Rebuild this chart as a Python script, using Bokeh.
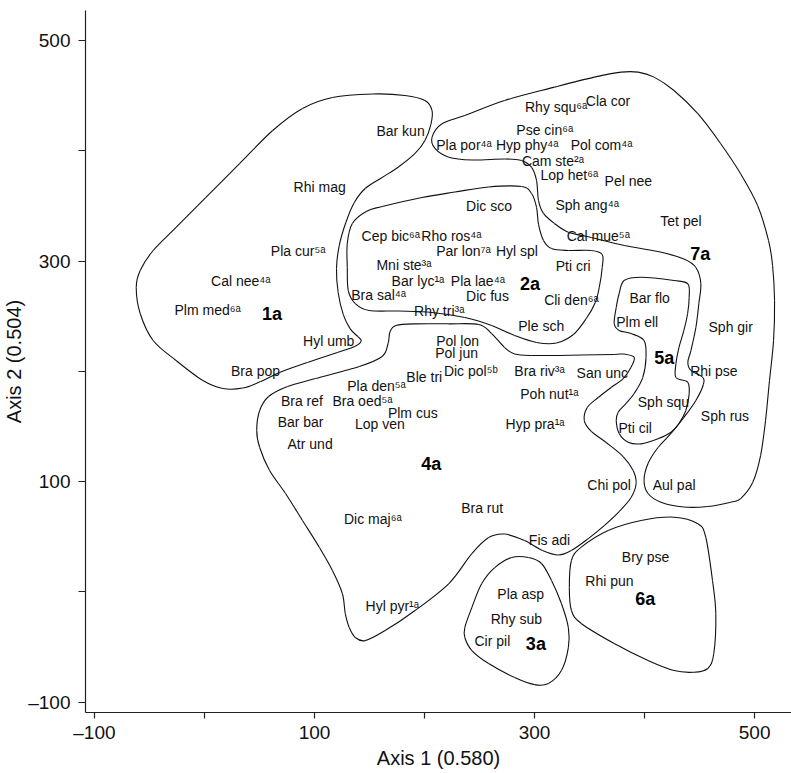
import numpy as np
from bokeh.plotting import figure
from bokeh.models import FixedTicker, ColumnDataSource, Range1d
from bokeh.core.properties import value
from bokeh.embed import file_html
from bokeh.resources import INLINE

# ---------------- data (axis units) ----------------
# species labels: left edge x, baseline y
label_names = ["Bar kun", "Rhi mag", "Pla cur", "Cal nee", "Plm med", "Hyl umb", "Bra pop",
               "Dic sco", "Cep bic", "Rho ros", "Par lon", "Hyl spl", "Mni ste", "Bar lyc",
               "Pla lae", "Bra sal", "Dic fus", "Rhy tri", "Pti cri", "Cli den", "Ple sch",
               "Pol lon", "Pol jun", "Dic pol", "Ble tri", "Pla den", "Bra ref", "Bra oed",
               "Plm cus", "Lop ven", "Bar bar", "Atr und", "Dic maj", "Hyl pyr", "Bra rut",
               "Fis adi", "Pla asp", "Rhy sub", "Cir pil", "Bry pse", "Rhi pun", "Chi pol",
               "Aul pal", "Bra riv", "San unc", "Poh nut", "Hyp pra", "Bar flo", "Plm ell",
               "Sph squ", "Pti cil", "Sph gir", "Rhi pse", "Sph rus", "Rhy squ", "Cla cor",
               "Pse cin", "Pla por", "Hyp phy", "Pol com", "Cam ste", "Lop het", "Pel nee",
               "Sph ang", "Tet pel", "Cal mue"]
label_sups = ["", "", "5a", "4a", "6a", "", "",
              "", "6a", "4a", "7a", "", "3a", "1a",
              "4a", "4a", "", "3a", "", "6a", "",
              "", "", "5b", "", "5a", "", "5a",
              "", "", "", "", "6a", "1a", "",
              "", "", "", "", "", "", "",
              "", "3a", "", "1a", "1a", "", "",
              "", "", "", "", "", "6a", "",
              "6a", "4a", "4a", "4a", "2a", "6a", "",
              "4a", "", "5a"]
label_x = [156.3, 81.0, 60.3, 6.0, -27.2, 89.6, 24.1,
           237.8, 142.8, 197.1, 210.6, 264.9, 156.3, 170.1,
           223.9, 133.4, 237.8, 190.5, 319.2, 308.7, 285.2,
           210.6, 209.7, 217.6, 183.5, 129.8, 69.5, 116.3,
           166.7, 136.8, 66.5, 75.5, 126.8, 146.4, 233.3,
           294.8, 266.2, 260.1, 245.4, 379.3, 346.1, 347.9,
           407.4, 281.6, 338.2, 287.0, 273.7, 386.2, 374.2,
           393.8, 376.3, 458.1, 441.4, 451.1, 291.3, 346.6,
           283.4, 210.6, 264.9, 332.8, 288.5, 305.4, 363.6,
           319.0, 414.3, 329.2]
label_y = [417.5, 367.0, 309.0, 281.8, 255.2, 227.4, 200.1,
           349.8, 322.3, 322.6, 309.0, 309.0, 296.0, 281.9,
           281.8, 268.8, 268.2, 254.6, 295.4, 264.3, 241.0,
           227.4, 216.8, 200.1, 194.7, 186.5, 172.7, 172.7,
           162.4, 152.4, 153.9, 133.7, 66.3, -12.9, 75.9,
           47.3, -1.7, -24.4, -44.1, 31.5, 9.7, 97.4,
           97.4, 200.1, 198.7, 179.65, 152.4, 266.3, 244.6,
           172.0, 148.5, 240.0, 200.1, 159.1, 439.3, 445.0,
           419.1, 404.8, 404.8, 404.8, 390.6, 377.6, 372.4,
           350.4, 336.2, 322.6]

# group (envelope) labels
group_names = ["1a", "2a", "3a", "4a", "5a", "6a", "7a"]
group_x = [52.3, 286.7, 292.1, 197.1, 408.8, 391.4, 441.4]
group_y = [252.2, 279.4, -47.0, 116.2, 211.9, -6.2, 306.6]

# envelope outlines (closed), axis units
env_1a_x = [62, 89.1, 116.3, 152.5, 182.3, 200.4, 206.8, 205.8, 200.4, 191.4, 176.9, 161.5, 146.1,
            136.2, 128.5, 122.5, 120, 121.5, 126.2, 132.5, 139.5, 142.5, 137, 120.8, 93.6, 68.3,
            51.1, 34.8, 16.7, -1.4, -25.8, -46.6, -58.4, -62, -58.4, -46.6, -25.8, 1.3, 32.1]
env_1a_y = [418.4, 438.4, 448.3, 451.5, 450.2, 445.6, 436.6, 423.9, 409.4, 397.6, 385.8, 375.8, 365.8,
            353.1, 335, 314.1, 293.3, 271.5, 251.5, 238.5, 231.5, 227.6, 222.8, 217.1, 208, 199,
            190.8, 184.9, 184.5, 191.7, 209.9, 228, 252.5, 276.1, 291.5, 309.6, 330.5, 357.7, 388.5]

env_2a_x = [161.5, 197.7, 227.6, 258.3, 288.2, 297.3, 301.8, 303.6, 308.1, 315.4, 330.7, 351.6, 361.5,
            361.5, 358.8, 355.2, 347, 335.3, 319.9, 301.8, 281.9, 261, 236.6, 206.8, 176.9, 149.7,
            137.1, 130.7, 129.8, 129.8, 134.4, 147]
env_2a_y = [349.5, 357.7, 362.6, 367.2, 367.6, 361.3, 348.6, 333.2, 318.7, 311.4, 309.6, 309.6, 306,
            294.2, 276.1, 262.5, 247.9, 233.4, 225.7, 226.2, 232.5, 241.6, 248.8, 253.4, 254.7, 255.2,
            261.5, 273.3, 294.2, 316, 334.1, 345]

env_4a_x = [47.5, 50.2, 58.3, 75.5, 100.9, 140.7, 161.5, 166.9, 168.7, 174.2, 191.4, 222.1, 249.3, 261,
            272.8, 281.9, 297.3, 342.5, 372.4, 381.4, 390.5, 387.7, 380.5, 369.6, 357.9, 347.9, 345.2,
            351.6, 365.1, 380.5, 389.6, 392.3, 387.7, 376.9, 363.3, 348.8, 333.5, 321.7, 307.2, 290.9,
            272.8, 258.3, 243, 222.1, 191.4, 164.2, 146.1, 137.1, 131.6, 128, 125.3, 116.3, 104.5,
            89.1, 73.7, 59.2, 50.2]
env_4a_y = [146.4, 164.5, 177.2, 186.3, 193.5, 204.4, 213.5, 225.3, 236.1, 241.6, 243.1, 243.1, 242.5,
            234.3, 221.6, 215.7, 214.4, 214.8, 215.3, 215.7, 212.8, 203.8, 193.5, 185.4, 176.3, 167.2,
            155.4, 145.5, 135.5, 122.8, 110.1, 98.3, 85.6, 72.9, 60.2, 48.4, 37.6, 33.5, 37.6, 46.6,
            52.5, 49.35, 34.8, 7.6, -16.8, -35, -44.1, -41.3, -32.3, -19.6, -1.4, 19.4, 40.3,
            64.8, 89.25, 110.1, 131]

env_7a_x = [206.8, 215.8, 236.6, 272.8, 318.1, 354.3, 378.7, 394.1, 408.6, 426.7, 448.4, 469.2, 487.3,
            502.7, 512.6, 516.3, 518.1, 517.2, 513.5, 509.9, 505.4, 498.2, 487.3, 478.3, 457.4, 435.7,
            414.9, 403.1, 399.5, 403.1, 412.2, 424, 435.7, 446.6, 453.4, 452.5, 442.1, 439.3, 442.1,
            446.6, 449.3, 451.1, 446.6, 435.7, 412.2, 381.4, 351.6, 330.7, 318.1, 308.1, 303.6, 301.8,
            297.3, 288.2, 272.8, 243, 222.1, 209.5]
env_7a_y = [412.1, 424.5, 432, 445.6, 457.7, 466.8, 471.3, 471.3, 466.8, 454.7, 433.6, 406.4, 379.1,
            350.4, 318.7, 296, 264.3, 228, 191.7, 155.4, 123.7, 99.2, 84.7, 81.4, 77.5, 77,
            81.4, 89.25, 101, 116.45, 131, 143.7, 158.2, 173.6, 188.1, 194.9, 200.8, 208.3, 218.9,
            239.8, 261.5, 279.7, 294.2, 301.9, 308.7, 314.1, 321.4, 326.2, 334.1, 343.2, 354.9, 373.1,
            384.9, 391.2, 392.6, 391.7, 394.2, 402.1]

env_5a_x = [381.4, 396.8, 426.7, 439.3, 440.5, 439.1, 435.7, 431.2, 428.5, 428.5, 439.1, 440.5, 437.5,
            431.2, 424, 412.2, 396.8, 385, 376.9, 374.2, 376, 383.2, 390.5, 398.3, 401.3, 399.5, 387.7,
            376.9, 372.4, 374.2, 376.9]
env_5a_y = [282.4, 285.4, 282.4, 279.4, 267, 252.5, 237.1, 221.6, 207.1, 194.4, 190.2, 179.65, 164.5,
            152.7, 144.8, 138.9, 134.3, 135.8, 143.7, 155.4, 163, 170.9, 179.9, 194.4, 212.6, 228, 234.3,
            237.1, 243.4, 257.9, 270.6]

env_6a_x = [333.5, 342.5, 366.9, 396.8, 426.7, 448.4, 455.6, 461.7, 464.7, 462.9, 457.4, 444.8, 426.7,
            403.1, 372.4, 342.5, 333.5, 331.6]
env_6a_y = [28.5, 40.6, 55.7, 64.8, 67.8, 61.8, 49.6, 10.4, -19.6, -55.8, -69.4, -72.8, -71.3,
            -62.2, -46.8, -28.6, -16.8, 4]

env_3a_x = [236.6, 243, 252, 263.8, 279.2, 294.5, 306.3, 315.4, 324.4, 330.7, 330.7, 324.4, 312.6, 300,
            281.9, 258.3, 243, 236.6]
env_3a_y = [-32.3, -14.1, 7.6, 22.1, 31.2, 31.2, 25.8, 10.4, -10.5, -32.3, -50.4, -71.3, -83.05, -84,
            -77.6, -64.9, -53.1, -41.3]

tick_values = [-100, 0, 100, 200, 300, 400, 500]
tick_labels = {-100: "\u2013100", 0: "", 100: "100", 200: "", 300: "300", 400: "", 500: "500"}
x_title = "Axis 1 (0.580)"
y_title = "Axis 2 (0.504)"

# ---------------- figure ----------------
X0, X1 = -108.1, 533.5
Y0, Y1 = -109.3, 527.2
p = figure(width=791, height=773, x_range=Range1d(X0, X1), y_range=Range1d(Y0, Y1),
           output_backend="svg", toolbar_location=None,
           min_border_left=82, min_border_right=0, min_border_top=10, min_border_bottom=61)
p.xgrid.visible = False
p.ygrid.visible = False
p.outline_line_color = None
p.background_fill_color = "white"
p.border_fill_color = "white"

FONT = "Liberation Sans"
for ax in (p.xaxis[0], p.yaxis[0]):
    ax.ticker = FixedTicker(ticks=tick_values)
    ax.major_label_overrides = tick_labels
    ax.minor_tick_line_color = None
    ax.major_tick_in = 0
    ax.axis_line_color = "#222222"
    ax.axis_line_width = 1.2
    ax.major_tick_line_color = "#222222"
    ax.major_tick_line_width = 1.2
    ax.major_label_text_font = FONT
    ax.major_label_text_font_size = "19px"
    ax.major_label_text_color = "#111111"
    ax.axis_label_text_font = FONT
    ax.axis_label_text_font_size = "20px"
    ax.axis_label_text_font_style = "normal"
    ax.axis_label_text_color = "#111111"

p.xaxis[0].axis_label = x_title
p.xaxis[0].major_tick_out = 6
p.xaxis[0].major_label_standoff = 3
p.xaxis[0].axis_label_standoff = 1
p.yaxis[0].axis_label = y_title
p.yaxis[0].major_tick_out = 7
p.yaxis[0].major_label_standoff = 8
p.yaxis[0].axis_label_standoff = 0

# envelopes as smooth closed curves through the traced outline
def closed_curve(xs, ys):
    x = np.asarray(xs, float)
    y = np.asarray(ys, float)
    xm1, ym1 = np.roll(x, 1), np.roll(y, 1)
    xp1, yp1 = np.roll(x, -1), np.roll(y, -1)
    xp2, yp2 = np.roll(x, -2), np.roll(y, -2)
    return dict(x0=x, y0=y, x1=xp1, y1=yp1,
                cx0=x + (xp1 - xm1) / 6.0, cy0=y + (yp1 - ym1) / 6.0,
                cx1=xp1 - (xp2 - x) / 6.0, cy1=yp1 - (yp2 - y) / 6.0)

for ex, ey in [(env_1a_x, env_1a_y), (env_2a_x, env_2a_y), (env_4a_x, env_4a_y),
               (env_7a_x, env_7a_y), (env_5a_x, env_5a_y), (env_6a_x, env_6a_y),
               (env_3a_x, env_3a_y)]:
    src = ColumnDataSource(closed_curve(ex, ey))
    p.bezier(x0="x0", y0="y0", x1="x1", y1="y1", cx0="cx0", cy0="cy0", cx1="cx1", cy1="cy1",
             source=src, line_color="#111111", line_width=1.1)

SUP = {"1": "\u00b9", "2": "\u00b2", "3": "\u00b3", "4": "\u2074", "5": "\u2075",
       "6": "\u2076", "7": "\u2077", "a": "\u1d43", "b": "\u1d47"}
texts = [n + "".join(SUP[c] for c in s) for n, s in zip(label_names, label_sups)]
p.text(x=label_x, y=label_y, text=texts, text_font=value(FONT), text_font_size="14px",
       text_align="left", text_baseline="alphabetic", text_color="#111111")

p.text(x=group_x, y=group_y, text=group_names, text_font=value(FONT), text_font_size="18px",
       text_font_style="bold", text_align="left", text_baseline="alphabetic", text_color="#000000")

open("out.html", "w").write(file_html(p, INLINE))
